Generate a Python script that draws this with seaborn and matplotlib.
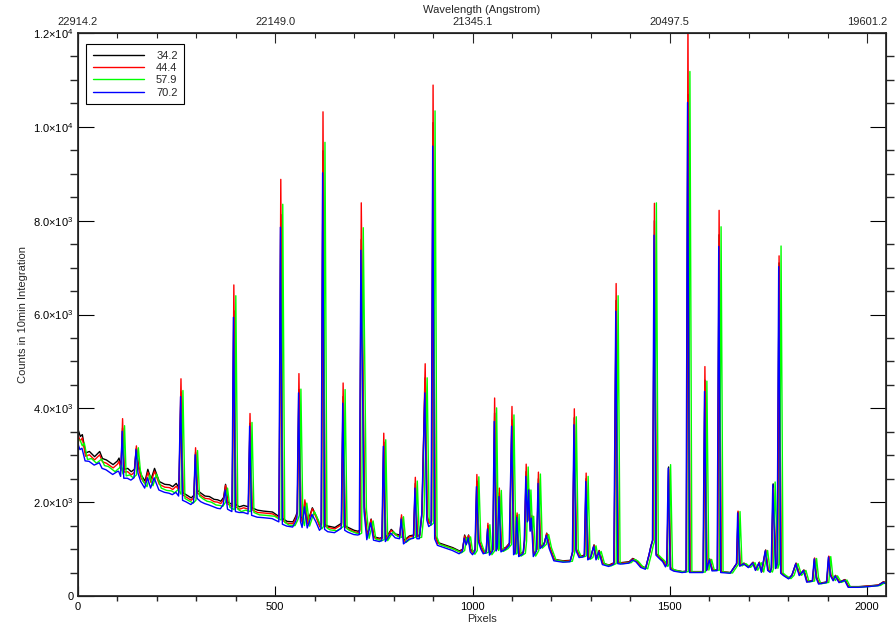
import numpy as np
import pandas as pd
import matplotlib
matplotlib.use("Agg")
import matplotlib.pyplot as plt
import seaborn as sns

# spectrum vertices (pixel, counts per 10 min)
pix = [
    0, 6, 11, 19, 29, 42, 55, 62, 72, 89, 100, 104,
    109, 113, 117, 126, 135, 143, 148, 153, 160, 170, 177, 185, 194, 206,
    220, 232, 240, 249, 256, 261, 266, 274, 287, 294, 298, 303,
    312, 322, 333, 345, 354, 362, 369, 374, 380, 391, 395, 400, 409,
    420, 432, 436, 441, 455, 470, 493, 505, 510, 514, 519,
    530, 545, 552, 556, 560, 565, 569, 575, 582, 594, 604,
    613, 617, 621, 626, 634, 651, 664, 668, 672, 677, 685, 700,
    710, 714, 718, 726, 733, 743, 750, 765, 771, 775, 780, 794, 805,
    816, 820, 826, 840, 851, 855, 860, 866, 872, 880, 885, 890, 896, 900, 905,
    912, 933, 950, 967, 975, 980, 985, 990, 995, 1001,
    1007, 1011, 1016, 1022, 1028, 1035, 1039, 1044, 1052, 1056, 1061, 1064, 1068, 1073,
    1085, 1094, 1100, 1105, 1109, 1113, 1118, 1129, 1132, 1136, 1140, 1143, 1147, 1150, 1155,
    1163, 1167, 1172, 1182, 1188, 1195, 1207, 1230, 1248, 1254, 1258, 1263,
    1271, 1280, 1284, 1288, 1293, 1300, 1308, 1314, 1321, 1330, 1346,
    1359, 1364, 1369, 1376, 1397, 1406, 1415, 1427, 1439,
    1448, 1453, 1457, 1461, 1466, 1473, 1483, 1490, 1493, 1497, 1502, 1511,
    1532, 1542, 1546, 1551, 1557, 1578, 1585, 1589, 1594, 1601, 1608, 1621, 1625, 1630,
    1654, 1667, 1670, 1673, 1678, 1688, 1700, 1711, 1718, 1727, 1733, 1743, 1749, 1755,
    1758, 1762, 1769, 1773, 1777, 1782, 1789, 1802, 1810, 1820, 1829, 1840, 1848, 1862, 1867,
    1872, 1878, 1898, 1903, 1908, 1915, 1920, 1930, 1944, 1953, 1979, 2004, 2029, 2042, 2047,
]

counts_342 = [
    3550, 3400, 3440, 3050, 3080, 2970, 3080, 2930, 2900, 2800, 2880, 2940,
    2750, 3580, 2700, 2720, 2650, 2700, 3150, 2800, 2580, 2450, 2700, 2480, 2720, 2440,
    2380, 2370, 2330, 2400, 2300, 4350, 2200, 2160, 2090, 2150, 3060, 2250,
    2190, 2130, 2120, 2060, 2050, 2020, 2100, 2380, 2000, 1950, 6080, 1950, 1900,
    1930, 1900, 3680, 1880, 1830, 1810, 1790, 1720, 1700, 8130, 1650,
    1590, 1580, 1700, 1800, 4400, 1700, 1580, 2000, 1570, 1880, 1700,
    1500, 1550, 9490, 1520, 1490, 1460, 1530, 1550, 4250, 1500, 1460, 1400,
    1380, 1400, 7600, 1900, 1280, 1640, 1260, 1230, 1250, 3280, 1230, 1420, 1320,
    1300, 1680, 1180, 1280, 1300, 2400, 1290, 1300, 1800, 4650, 1700, 1560, 1600, 10090, 1300,
    1140, 1080, 1030, 960, 1000, 1300, 1150, 1300, 1000, 930,
    1000, 2450, 1200, 1050, 940, 960, 1500, 910, 1000, 3900, 1000, 1100, 2200, 980,
    1040, 1130, 3750, 920, 950, 1720, 880, 940, 1200, 2650, 1600, 2250, 1400, 1700, 880,
    1000, 2500, 1050, 1130, 1340, 1060, 780, 750, 760, 950, 3800, 1000,
    850, 860, 880, 2500, 800, 840, 1090, 800, 970, 700, 660,
    710, 6300, 720, 710, 730, 800, 760, 640, 600,
    900, 1090, 1200, 8000, 900, 840, 740, 650, 700, 2750, 600, 555,
    520, 530, 10690, 520, 520, 520, 520, 4600, 560, 790, 555, 560, 7700, 520,
    500, 660, 700, 1790, 650, 700, 620, 720, 560, 720, 520, 980, 560, 520,
    600, 2390, 600, 700, 7100, 500, 450, 380, 450, 700, 450, 555, 310, 330, 800,
    400, 270, 300, 840, 450, 340, 440, 300, 350, 200, 200, 215, 235, 305, 280,
]

counts_444 = [
    3430, 3300, 3370, 2980, 3010, 2900, 3010, 2860, 2830, 2730, 2810, 2870,
    2680, 3780, 2640, 2650, 2580, 2640, 3200, 2740, 2510, 2390, 2640, 2420, 2660, 2380,
    2320, 2310, 2270, 2340, 2250, 4630, 2150, 2110, 2040, 2100, 3160, 2190,
    2140, 2080, 2070, 2010, 2000, 1970, 2060, 2360, 1960, 1900, 6630, 1900, 1850,
    1880, 1850, 3890, 1840, 1780, 1770, 1750, 1690, 1660, 8880, 1610,
    1550, 1540, 1660, 1770, 4740, 1670, 1550, 2050, 1540, 1860, 1670,
    1470, 1520, 10320, 1490, 1460, 1430, 1500, 1520, 4540, 1470, 1430, 1370,
    1350, 1370, 8380, 1880, 1260, 1630, 1240, 1210, 1230, 3470, 1210, 1400, 1300,
    1280, 1730, 1160, 1260, 1280, 2530, 1270, 1280, 1780, 4950, 1680, 1540, 1580, 10890, 1280,
    1120, 1060, 1010, 940, 990, 1280, 1130, 1290, 980, 910,
    990, 2590, 1190, 1040, 930, 950, 1550, 900, 990, 4220, 990, 1090, 2300, 970,
    1030, 1120, 4040, 910, 940, 1770, 870, 930, 1190, 2810, 1620, 2280, 1420, 1720, 870,
    990, 2640, 1040, 1120, 1330, 1050, 770, 740, 750, 940, 3990, 990,
    840, 850, 870, 2620, 790, 830, 1080, 790, 960, 690, 650,
    700, 6660, 710, 700, 720, 790, 750, 630, 590,
    890, 1080, 1190, 8370, 890, 830, 770, 640, 690, 2700, 590, 545,
    515, 525, 12300, 515, 515, 515, 515, 4890, 555, 785, 550, 555, 8220, 515,
    495, 655, 695, 1810, 645, 695, 615, 715, 555, 715, 515, 975, 555, 515,
    595, 2300, 595, 695, 7250, 495, 445, 375, 445, 695, 445, 550, 305, 325, 810,
    395, 265, 295, 850, 445, 335, 435, 295, 345, 195, 195, 210, 230, 300, 275,
]

counts_579 = [
    3330, 3200, 3260, 2910, 2930, 2830, 2920, 2780, 2760, 2650, 2730, 2790,
    2600, 3630, 2560, 2580, 2520, 2580, 3160, 2680, 2450, 2330, 2580, 2350, 2600, 2300,
    2250, 2240, 2200, 2270, 2170, 4380, 2080, 2040, 1980, 2040, 3100, 2130,
    2070, 2020, 2000, 1940, 1930, 1910, 2000, 2300, 1890, 1840, 6400, 1850, 1800,
    1830, 1800, 3700, 1780, 1730, 1720, 1700, 1640, 1620, 8350, 1570,
    1510, 1500, 1620, 1720, 4410, 1620, 1500, 1980, 1490, 1800, 1620,
    1430, 1480, 9670, 1450, 1410, 1390, 1460, 1480, 4400, 1430, 1390, 1340,
    1320, 1340, 7850, 1850, 1230, 1600, 1210, 1180, 1200, 3330, 1180, 1370, 1270,
    1250, 1690, 1140, 1230, 1250, 2450, 1240, 1250, 1750, 4650, 1650, 1510, 1550, 10340, 1250,
    1100, 1040, 990, 920, 970, 1250, 1110, 1260, 960, 890,
    970, 2540, 1170, 1020, 910, 930, 1520, 880, 970, 4010, 970, 1070, 2250, 950,
    1010, 1100, 3860, 890, 920, 1740, 850, 910, 1170, 2750, 1600, 2260, 1400, 1700, 850,
    970, 2600, 1020, 1100, 1310, 1030, 760, 730, 740, 930, 3820, 980,
    830, 840, 860, 2550, 780, 820, 1070, 780, 950, 680, 640,
    690, 6400, 700, 690, 710, 780, 740, 620, 580,
    880, 1070, 1180, 8380, 880, 820, 740, 630, 680, 2800, 580, 540,
    510, 520, 11180, 510, 510, 510, 510, 4580, 550, 780, 545, 550, 7870, 510,
    490, 650, 690, 1800, 640, 690, 610, 710, 550, 710, 510, 970, 550, 510,
    590, 2430, 590, 690, 7460, 490, 440, 370, 440, 690, 440, 545, 300, 320, 800,
    390, 260, 290, 840, 440, 330, 430, 290, 340, 190, 190, 205, 225, 295, 270,
]

counts_702 = [
    3260, 3120, 3150, 2880, 2870, 2790, 2840, 2720, 2690, 2590, 2650, 2660,
    2550, 3510, 2510, 2510, 2470, 2520, 3120, 2620, 2440, 2300, 2520, 2300, 2520, 2260,
    2210, 2190, 2160, 2210, 2130, 4250, 2040, 2010, 1950, 2000, 3010, 2080,
    2010, 1970, 1940, 1900, 1870, 1860, 1950, 2260, 1850, 1800, 5940, 1800, 1780,
    1780, 1750, 3620, 1720, 1680, 1670, 1650, 1600, 1580, 7860, 1530,
    1490, 1470, 1580, 1680, 4330, 1580, 1460, 1900, 1450, 1740, 1580,
    1400, 1440, 9020, 1420, 1370, 1350, 1420, 1440, 4110, 1400, 1360, 1310,
    1300, 1310, 7370, 1800, 1200, 1560, 1190, 1160, 1180, 3190, 1160, 1340, 1240,
    1220, 1640, 1110, 1210, 1230, 2300, 1220, 1220, 1700, 4330, 1620, 1480, 1520, 9590, 1220,
    1080, 1020, 970, 900, 950, 1230, 1090, 1240, 940, 880,
    950, 2330, 1150, 1000, 900, 920, 1430, 870, 960, 3720, 960, 1050, 2120, 940,
    1000, 1080, 3620, 880, 910, 1680, 840, 900, 1150, 2550, 1580, 2260, 1380, 1660, 840,
    960, 2400, 1010, 1090, 1290, 1020, 750, 720, 730, 920, 3650, 970,
    820, 830, 850, 2440, 770, 810, 1060, 770, 940, 670, 630,
    680, 6070, 690, 680, 700, 770, 730, 610, 570,
    870, 1060, 1170, 7690, 870, 810, 730, 620, 670, 2725, 570, 530,
    500, 510, 10520, 500, 500, 500, 500, 4360, 540, 770, 535, 540, 7450, 500,
    485, 645, 685, 1770, 635, 685, 605, 705, 545, 705, 505, 965, 545, 505,
    585, 2370, 585, 685, 7020, 485, 435, 365, 435, 685, 435, 540, 295, 315, 790,
    385, 255, 285, 830, 435, 325, 425, 285, 335, 185, 185, 200, 220, 290, 265,
]

labels = ["34.2", "44.4", "57.9", "70.2"]
colors = ["black", "#ff0000", "#00ff00", "#0000ff"]
# small wavelength drift between exposures, in pixels
pix_shift = [0, 0, 5, -1]

x_ticks = [0, 500, 1000, 1500, 2000]
wave_labels = ["22914.2", "22149.0", "21345.1", "20497.5", "19601.2"]
y_ticks = [0, 2000, 4000, 6000, 8000, 10000, 12000]
y_labels = ["0", r"$2.0{\times}10^{3}$", r"$4.0{\times}10^{3}$", r"$6.0{\times}10^{3}$",
            r"$8.0{\times}10^{3}$", r"$1.0{\times}10^{4}$", r"$1.2{\times}10^{4}$"]

sns.set_theme(style="ticks")
plt.rcParams["font.family"] = ["Liberation Sans", "DejaVu Sans"]
plt.rcParams["mathtext.fontset"] = "custom"
plt.rcParams["mathtext.rm"] = "Liberation Sans"

fig = plt.figure(figsize=(8.96, 6.30), dpi=100)
ax = fig.add_axes([78 / 896, 1 - 596 / 630, 808 / 896, 563 / 630])

series = [counts_342, counts_444, counts_579, counts_702]
for vals, lab, col, sh in zip(series, labels, colors, pix_shift):
    df = pd.DataFrame({"pixel": np.array(pix) + sh, "counts": vals})
    sns.lineplot(data=df, x="pixel", y="counts", color=col, linewidth=1.0,
                 label=lab, ax=ax, sort=False)

ax.set_xlim(0, 2048)
ax.set_ylim(0, 12000)
ax.set_xticks(x_ticks)
ax.set_xticks(np.arange(0, 2048, 100), minor=True)
ax.set_yticks(y_ticks)
ax.set_yticklabels(y_labels)
ax.set_yticks(np.arange(0, 12001, 500), minor=True)
ax.tick_params(axis="both", direction="in", labelsize=8, colors="black", width=0.8)
ax.tick_params(axis="x", which="major", length=7, top=False, pad=4)
ax.tick_params(axis="x", which="minor", length=3.5, top=False)
ax.tick_params(axis="y", which="major", length=11.5, right=True, pad=3)
ax.tick_params(axis="y", which="minor", length=5.5, right=True)
ax.set_xlabel("Pixels", fontsize=8, labelpad=2)
ax.set_ylabel("Counts in 10min Integration", fontsize=8, labelpad=4)
for s in ax.spines.values():
    s.set_linewidth(0.8)
    s.set_color("black")

top = ax.twiny()
top.set_xlim(0, 2048)
top.set_xticks(x_ticks)
top.set_xticklabels(wave_labels)
top.set_xticks(np.arange(0, 2048, 100), minor=True)
top.tick_params(axis="x", which="major", direction="in", length=7, labelsize=8, pad=4, width=0.8)
top.tick_params(axis="x", which="minor", direction="in", length=3.5, width=0.8)
fig.text(482 / 896, 1 - 10 / 630, "Wavelength (Angstrom)", fontsize=8,
         ha="center", va="center")

leg = ax.legend(loc="upper left", bbox_to_anchor=(0.01, 0.98), borderaxespad=0,
                fontsize=8, frameon=True, fancybox=False, framealpha=1,
                edgecolor="black", handlelength=4.6, labelspacing=0.2,
                borderpad=0.6, handletextpad=1.1)
leg.get_frame().set_linewidth(0.8)

fig.savefig("out.png", dpi=100)
